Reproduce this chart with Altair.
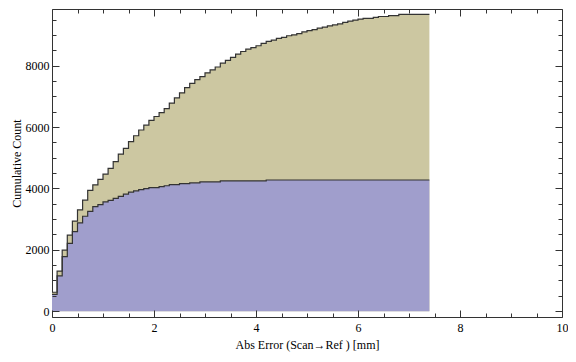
import altair as alt
import pandas as pd

# ---- data (cumulative counts per 0.1 mm bin) ----
bin_width = 0.1
total_cum = [
    617, 1307, 1987, 2477, 2937, 3303, 3617, 3940, 4118, 4295,
    4470, 4655, 4875, 5120, 5310, 5530, 5718, 5906, 6063, 6219,
    6345, 6470, 6605, 6784, 6950, 7116, 7290, 7426, 7551, 7645,
    7771, 7865, 7959, 8084, 8178, 8276, 8382, 8464, 8539, 8590,
    8652, 8727, 8795, 8835, 8893, 8925, 8978, 9009, 9050, 9103,
    9144, 9176, 9229, 9260, 9301, 9332, 9364, 9417, 9458, 9489,
    9520, 9542, 9542, 9574, 9605, 9605, 9636, 9636, 9677, 9677,
    9677, 9677, 9677, 9677,
]
blue_cum = [
    545, 1150, 1777, 2207, 2592, 2875, 3094, 3251, 3408, 3470,
    3560, 3612, 3680, 3743, 3815, 3878, 3919, 3962, 3994, 4025,
    4025, 4057, 4088, 4128, 4128, 4160, 4160, 4182, 4182, 4213,
    4213, 4213, 4213, 4245, 4245, 4245, 4245, 4245, 4245, 4245,
    4245, 4245, 4276, 4276, 4276, 4276, 4276, 4276, 4276, 4276,
    4276, 4276, 4276, 4276, 4276, 4276, 4276, 4276, 4276, 4276,
    4276, 4276, 4276, 4276, 4276, 4276, 4276, 4276, 4276, 4276,
    4276, 4276, 4276, 4276,
]
assert len(total_cum) == len(blue_cum) == 74

x_major = [0, 2, 4, 6, 8, 10]
x_minor = [0.5, 1, 1.5, 2.5, 3, 3.5, 4.5, 5, 5.5, 6.5, 7, 7.5, 8.5, 9, 9.5]
y_major = [0, 2000, 4000, 6000, 8000]
y_minor = [500, 1000, 1500, 2500, 3000, 3500, 4500, 5000, 5500,
           6500, 7000, 7500, 8500, 9000, 9500]

x_title = "Abs Error (Scan→Ref ) [mm]"
y_title = "Cumulative Count"

# bin edges; last value repeated at the closing edge for step-after drawing
edges = [round(i * bin_width, 1) for i in range(len(total_cum) + 1)]
df = pd.DataFrame({
    "x": edges,
    "total": total_cum + [total_cum[-1]],
    "blue": blue_cum + [blue_cum[-1]],
})

FONT = "Liberation Serif"
TAN = "#CCC7A1"
BLUE = "#A09ECC"
EDGE = "#333333"

xs = alt.Scale(domain=[0, 10], nice=False, zero=False)
ys = alt.Scale(domain=[-190, 9850], nice=False, zero=False)

common = dict(domain=False, grid=False, tickColor=EDGE, tickWidth=1,
              labelFont=FONT, labelFontSize=12, labelColor="black",
              titleFont=FONT, titleFontSize=12, titleColor="black",
              titleFontWeight="normal", zindex=1)


def ax(orient, values, size, labels=False, **kw):
    return alt.Axis(orient=orient, values=values, offset=-size, tickSize=size,
                    labels=labels, **common, **kw)


base = alt.Chart(df)

tan_area = base.mark_area(interpolate="step-after", color=TAN).encode(
    x=alt.X("x:Q", scale=xs,
            axis=ax("bottom", x_major, 7, labels=True, labelPadding=5,
                    labelFlush=False, format="d",
                    title=x_title, titlePadding=6)),
    y=alt.Y("total:Q", scale=ys,
            axis=ax("left", y_major, 7, labels=True, labelPadding=3,
                    format="d", title=y_title, titlePadding=2)),
    y2=alt.datum(0),
)

blue_area = base.mark_area(interpolate="step-after", color=BLUE).encode(
    x=alt.X("x:Q", scale=xs, axis=ax("bottom", x_minor, 4, title=None)),
    y=alt.Y("blue:Q", scale=ys, axis=ax("left", y_minor, 4, title=None)),
    y2=alt.datum(0),
)

top_line = base.mark_line(interpolate="step-after", color=EDGE,
                          strokeWidth=1.2).encode(
    x=alt.X("x:Q", scale=xs, axis=ax("top", x_major, 7, title=None)),
    y=alt.Y("total:Q", scale=ys, axis=ax("right", y_major, 7, title=None)),
)

blue_line = base.mark_line(interpolate="step-after", color=EDGE,
                           strokeWidth=1.2).encode(
    x=alt.X("x:Q", scale=xs, axis=ax("top", x_minor, 4, title=None)),
    y=alt.Y("blue:Q", scale=ys, axis=ax("right", y_minor, 4, title=None)),
)

chart = alt.layer(tan_area, blue_area, top_line, blue_line).resolve_axis(
    x="independent", y="independent"
).properties(
    width=510, height=308,
    autosize=alt.AutoSizeParams(type="none"),
    padding={"left": 44, "top": 1, "right": 6, "bottom": 37},
).configure_view(stroke=EDGE, strokeWidth=1)

chart.save("out.html", embed_options={"renderer": "svg", "actions": False})
